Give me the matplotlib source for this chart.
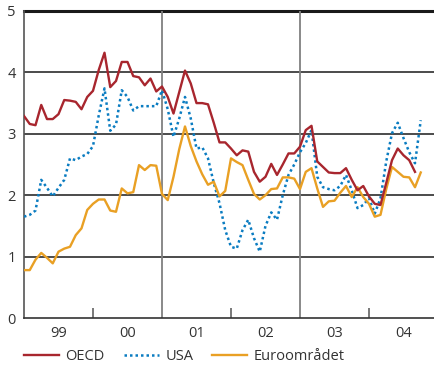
import numpy as np
import matplotlib
matplotlib.use("Agg")
import matplotlib.pyplot as plt

# Monthly values from Jan 1999
oecd = [3.29, 3.16, 3.14, 3.47, 3.24, 3.24, 3.32, 3.55, 3.54, 3.52,
        3.40, 3.60, 3.70, 4.04, 4.32, 3.76, 3.86, 4.17, 4.17, 3.94,
        3.92, 3.79, 3.90, 3.69, 3.77, 3.60, 3.33, 3.68, 4.03, 3.82,
        3.50, 3.50, 3.48, 3.18, 2.86, 2.86, 2.76, 2.65, 2.73, 2.71,
        2.38, 2.22, 2.30, 2.51, 2.33, 2.50, 2.68, 2.68, 2.79, 3.06,
        3.13, 2.55, 2.46, 2.37, 2.36, 2.36, 2.44, 2.25, 2.08, 2.15,
        1.98, 1.86, 1.84, 2.20, 2.57, 2.76, 2.65, 2.57, 2.38]
usa = [1.65, 1.68, 1.75, 2.25, 2.12, 1.98, 2.12, 2.25, 2.60, 2.57,
       2.63, 2.67, 2.80, 3.30, 3.74, 3.05, 3.15, 3.71, 3.60, 3.38,
       3.45, 3.45, 3.45, 3.45, 3.71, 3.40, 2.95, 3.25, 3.60, 3.25,
       2.76, 2.78, 2.60, 2.20, 1.87, 1.43, 1.16, 1.13, 1.43, 1.60,
       1.30, 1.08, 1.50, 1.72, 1.60, 2.00, 2.33, 2.50, 2.70, 2.85,
       3.06, 2.30, 2.13, 2.10, 2.08, 2.15, 2.33, 2.08, 1.79, 1.84,
       1.95, 1.70, 1.95, 2.55, 3.01, 3.18, 2.93, 2.70, 2.52, 3.22]
euro = [0.78, 0.78, 0.95, 1.06, 0.98, 0.89, 1.08, 1.13, 1.16, 1.35,
        1.46, 1.76, 1.86, 1.93, 1.93, 1.75, 1.73, 2.11, 2.03, 2.05,
        2.49, 2.41, 2.49, 2.48, 2.02, 1.92, 2.30, 2.75, 3.12, 2.80,
        2.55, 2.34, 2.17, 2.22, 1.98, 2.07, 2.60, 2.54, 2.49, 2.25,
        2.02, 1.93, 2.00, 2.10, 2.11, 2.29, 2.29, 2.27, 2.10, 2.38,
        2.44, 2.11, 1.81, 1.90, 1.91, 2.04, 2.15, 1.97, 2.13, 1.97,
        1.86, 1.65, 1.68, 2.10, 2.46, 2.38, 2.30, 2.29, 2.13, 2.37]

years = [1999, 2000, 2001, 2002, 2003, 2004]
year_labels = ["99", "00", "01", "02", "03", "04"]

plt.rcParams['font.family'] = ['Open Sans', 'DejaVu Sans']
text_color = '#333333'

fig = plt.figure(figsize=(4.34, 3.69), dpi=100)
ax = fig.add_axes([24/434, 51/369, 410/434, 307/369])

def months(series):
    return 1999 + np.arange(len(series)) / 12.0

ax.plot(months(oecd), oecd, color='#a8262e', lw=1.7, label='OECD', zorder=4)
ax.plot(months(usa), usa, color='#0a7cc1', lw=1.8, ls=(0, (1, 1.2)), label='USA', zorder=3)
ax.plot(months(euro), euro, color='#e9a024', lw=1.7, label='Euroområdet', zorder=3)

ax.set_xlim(1999, 1999 + 410/69)
ax.set_ylim(0, 5)

# horizontal grid
for y in [1, 2, 3, 4]:
    ax.axhline(y, color='#1a1a1a', lw=1.1, zorder=1)
ax.axhline(5, color='#1a1a1a', lw=2.2, zorder=1, clip_on=False)

# vertical separators
for x in [2001, 2003]:
    ax.axvline(x, color='#808080', lw=1.3, zorder=1)

ax.set_xticks([y + 0.5 for y in years])
ax.set_xticklabels(year_labels)
ax.set_xticks([2000, 2002, 2004], minor=True)
ax.tick_params(axis='x', which='major', length=0, pad=6, labelsize=10.5, colors=text_color)
ax.tick_params(axis='x', which='minor', direction='in', length=7, width=1.1, color='#555555')
ax.set_yticks([0, 1, 2, 3, 4, 5])
ax.tick_params(axis='y', length=0, pad=6, labelsize=10.5, colors=text_color)

for s in ['top', 'right']:
    ax.spines[s].set_visible(False)
ax.spines['left'].set_color('#555555')
ax.spines['left'].set_linewidth(1.2)
ax.spines['bottom'].set_color('#333333')
ax.spines['bottom'].set_linewidth(1.2)

h, l = ax.get_legend_handles_labels()
fig.legend(h, l, loc='lower left', bbox_to_anchor=(0.025, -0.022), ncol=3,
           frameon=False, fontsize=10.5, handlelength=2.4, handletextpad=0.45,
           columnspacing=1.3, labelcolor=text_color)

fig.savefig('out.png', dpi=100)
